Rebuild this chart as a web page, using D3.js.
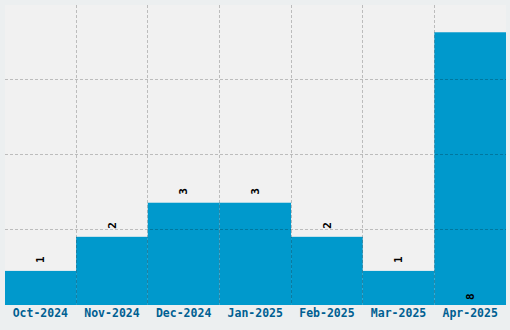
<!DOCTYPE html>
<html>
<head>
<meta charset="utf-8">
<script src="https://cdn.jsdelivr.net/npm/d3@7"></script>
<style>
  html, body { margin: 0; padding: 0; background: #eceff0; }
  svg { display: block; }
</style>
</head>
<body>
<svg id="chart" width="510" height="330"></svg>
<script>
const categories = ["Oct-2024", "Nov-2024", "Dec-2024", "Jan-2025", "Feb-2025", "Mar-2025", "Apr-2025"];
const values = [1, 2, 3, 3, 2, 1, 8];

const W = 510, H = 330;
const margin = { top: 5, right: 4, bottom: 25, left: 5 };
const svg = d3.select("#chart");

const x = d3.scaleBand().domain(categories).range([4.5, W - margin.right]).padding(0);
const maxV = d3.max(values);
const yMax = maxV * 1.1;
const y = d3.scaleLinear().domain([0, yMax]).range([H - margin.bottom, margin.top]);

// plot background
svg.append("rect")
  .attr("x", margin.left).attr("y", margin.top)
  .attr("width", W - margin.left - margin.right)
  .attr("height", H - margin.top - margin.bottom)
  .attr("fill", "#f1f1f1");

// bars
svg.append("g").selectAll("rect").data(values).join("rect")
  .attr("x", (d, i) => Math.max(margin.left, x(categories[i])))
  .attr("width", (d, i) => x(categories[i]) + x.bandwidth() - Math.max(margin.left, x(categories[i])))
  .attr("y", d => y(d))
  .attr("height", d => y(0) - y(d))
  .attr("fill", "#0099cc");

// grid (drawn over bars)
const grid = svg.append("g")
  .attr("stroke", "#000").attr("stroke-opacity", 0.22)
  .attr("stroke-dasharray", "3,2").attr("stroke-width", 1);
const yGrid = [1, 2, 3].map(k => yMax * k / 4);
grid.selectAll("line.h").data(yGrid).join("line")
  .attr("class", "h")
  .attr("x1", margin.left).attr("x2", W - margin.right)
  .attr("y1", d => Math.round(y(d)) - 0.5).attr("y2", d => Math.round(y(d)) - 0.5);
grid.selectAll("line.v").data(categories.slice(1)).join("line")
  .attr("class", "v")
  .attr("x1", d => Math.floor(x(d)) + 0.5).attr("x2", d => Math.floor(x(d)) + 0.5)
  .attr("y1", margin.top).attr("y2", H - margin.bottom);

// value labels
svg.append("g").selectAll("text").data(values).join("text")
  .attr("transform", (d, i) => {
    const cx = x(categories[i]) + x.bandwidth() / 2;
    const ty = d === maxV ? y(0) - 5 : y(d) - 8;
    return `translate(${cx},${ty}) rotate(-90)`;
  })
  .attr("text-anchor", "start")
  .attr("dy", "0.35em")
  .attr("font-family", "'DejaVu Sans Mono', monospace")
  .attr("font-weight", "bold")
  .attr("font-size", "11px")
  .attr("fill", "#000")
  .text(d => d);

// x axis labels
const xAxis = d3.axisBottom(x).tickSize(0).tickPadding(4);
const gx = svg.append("g").attr("transform", `translate(0,${H - margin.bottom})`).call(xAxis);
gx.select(".domain").remove();
gx.selectAll("text")
  .attr("font-family", "'DejaVu Sans Mono', monospace")
  .attr("font-weight", "bold")
  .attr("font-size", "11.5px")
  .attr("fill", "#005f92");
</script>
</body>
</html>
